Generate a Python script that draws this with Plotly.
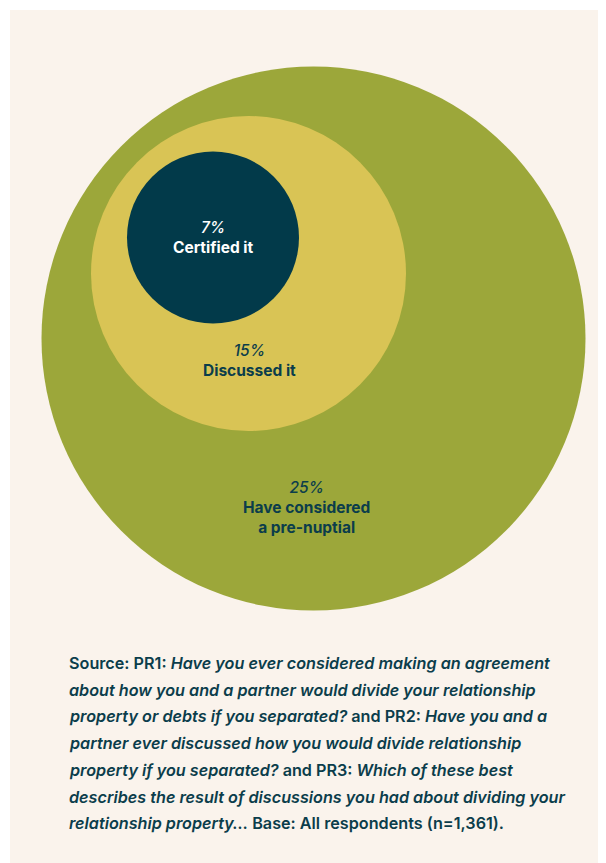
import plotly.graph_objects as go

# data
labels = ["Have considered<br>a pre-nuptial", "Discussed it", "Certified it"]
shares = [25, 15, 7]

source_lines = [
    "Source: PR1: <i>Have you ever considered making an agreement</i>",
    "<i>about how you and a partner would divide your relationship</i>",
    "<i>property or debts if you separated?</i> and PR2: <i>Have you and a</i>",
    "<i>partner ever discussed how you would divide relationship</i>",
    "<i>property if you separated?</i> and PR3: <i>Which of these best</i>",
    "<i>describes the result of discussions you had about dividing your</i>",
    "<i>relationship property…</i> Base: All respondents (n=1,361).",
]

# layout (screen pixel coords; page body adds an 8px offset)
W, H = 606, 863
OFF = 8
centers = [(313.5, 338.5), (248.5, 273.5), (213, 237.5)]
radii = [272, 157.5, 86]
label_pos = [(306, 507), (249, 360), (213, 237)]
fills = ["#9CA73A", "#D9C455", "#023A4A"]
text_colors = ["#0B3D4B", "#0B3D4B", "#FFFFFF"]
BG = "#FAF3EC"
TXT = "#0B3D4B"

fig = go.Figure()

fig.add_trace(go.Scatter(x=[OFF, W + OFF], y=[OFF, H + OFF], mode="markers",
                         marker=dict(opacity=0), hoverinfo="skip", showlegend=False))

shapes = [dict(type="rect", xref="x", yref="y", x0=10, x1=W + OFF, y0=10, y1=H + OFF,
               fillcolor=BG, line=dict(width=0), layer="below")]
for (cx, cy), r, c in zip(centers, radii, fills):
    shapes.append(dict(type="circle", xref="x", yref="y",
                       x0=cx - r, x1=cx + r, y0=cy - r, y1=cy + r,
                       fillcolor=c, line=dict(width=0), layer="below"))

annotations = []
for lab, s, (lx, ly), tc in zip(labels, shares, label_pos, text_colors):
    annotations.append(dict(
        x=lx, y=ly, xref="x", yref="y", showarrow=False,
        text=f"<i>{s}%</i><br><b>{lab}</b>",
        font=dict(family="Inter", size=15.5, color=tc, weight=500),
        align="center",
    ))

y0 = 663
for i, line in enumerate(source_lines):
    annotations.append(dict(
        x=67, y=y0 + i * 26.7, xref="x", yref="y", showarrow=False,
        xanchor="left", yanchor="middle", text=line,
        font=dict(family="Inter", size=16.2, color=TXT, weight=600),
    ))

fig.update_layout(
    width=W, height=H,
    margin=dict(l=0, r=0, t=0, b=0),
    paper_bgcolor="white", plot_bgcolor="white",
    xaxis=dict(range=[OFF, W + OFF], visible=False, fixedrange=True),
    yaxis=dict(range=[H + OFF, OFF], visible=False, fixedrange=True),
    shapes=shapes, annotations=annotations,
    showlegend=False,
)

fig.write_html("out.html", config=dict(displayModeBar=False))
